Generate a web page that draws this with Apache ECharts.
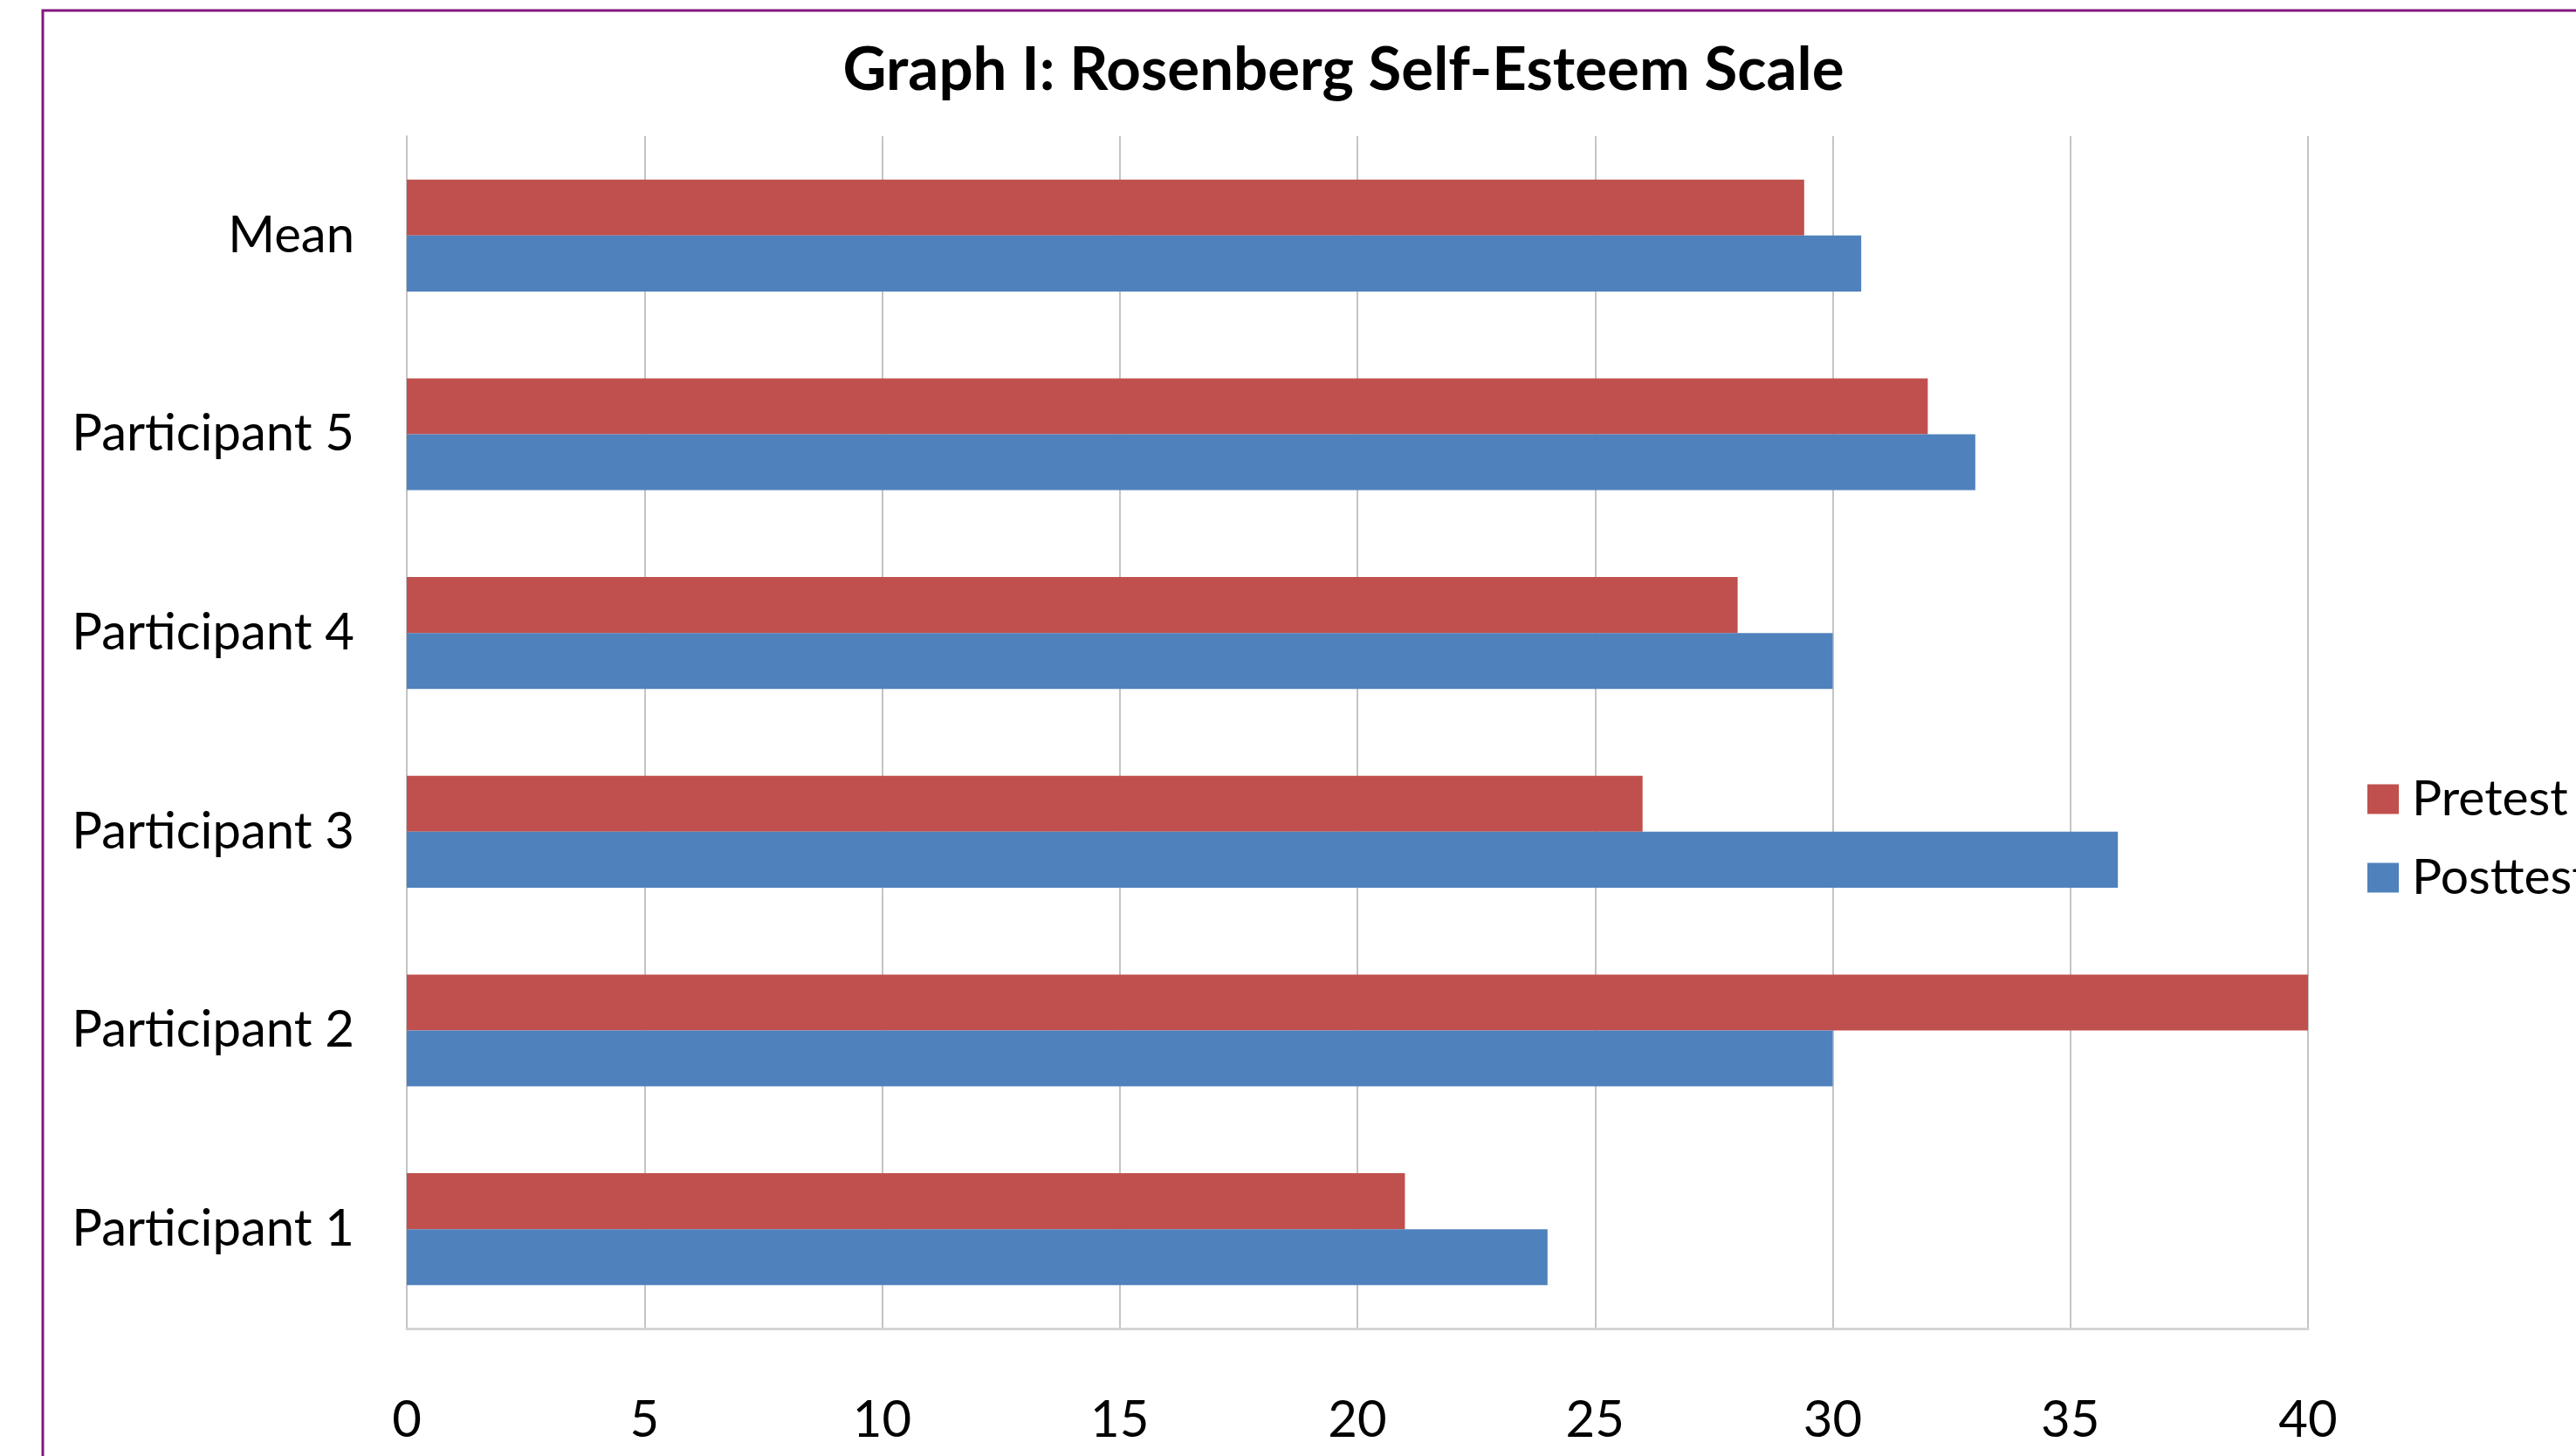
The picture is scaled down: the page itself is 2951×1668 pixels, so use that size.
<!DOCTYPE html>
<html>
<head>
<meta charset="utf-8">
<style>html,body{margin:0;padding:0;background:#fff;}#c{width:2951px;height:1668px;}</style>
<script src="https://cdn.jsdelivr.net/npm/echarts@6/dist/echarts.min.js"></script>
</head>
<body>
<div id="c"></div>
<script>
const categories = ['Participant 1', 'Participant 2', 'Participant 3', 'Participant 4', 'Participant 5', 'Mean'];
const pretest = [21, 40, 26, 28, 32, 29.4];
const posttest = [24, 30, 36, 30, 33, 30.6];
const seriesNames = ['Pretest', 'Posttest'];
const titleText = 'Graph I: Rosenberg Self-Esteem Scale';

const chart = echarts.init(document.getElementById('c'));
const font = 'Lato';
chart.setOption({
  animation: false,
  backgroundColor: '#ffffff',
  title: {
    text: titleText,
    left: 1534, top: 76, textAlign: 'center', textVerticalAlign: 'middle',
    textStyle: {fontFamily: font, fontWeight: 'bold', fontSize: 69, color: '#000'}
  },
  graphic: [{
    type: 'rect', silent: true,
    shape: {x: 49, y: 12, width: 3000, height: 1800},
    style: {fill: 'none', stroke: '#82187f', lineWidth: 3}
  }],
  legend: {
    orient: 'vertical', left: 2707, top: 882,
    itemWidth: 36, itemHeight: 34, itemGap: 33,
    icon: 'rect',
    data: seriesNames,
    textStyle: {fontFamily: font, fontSize: 57, lineHeight: 57, color: '#000', padding: [0, 0, 0, 10]}
  },
  grid: {left: 466, top: 156, width: 2178, height: 1366, containLabel: false},
  xAxis: {
    type: 'value', min: 0, max: 40, interval: 5,
    axisLine: {show: true, lineStyle: {color: '#d4d4d4', width: 3}},
    axisTick: {show: false},
    splitLine: {show: true, lineStyle: {color: '#c4c4c4', width: 2}},
    axisLabel: {fontFamily: font, fontSize: 58, color: '#000', margin: 76}
  },
  yAxis: {
    type: 'category', data: categories,
    axisLine: {show: true, lineStyle: {color: '#c4c4c4', width: 2}},
    axisTick: {show: false},
    axisLabel: {fontFamily: font, fontSize: 58, color: '#000', margin: 60}
  },
  series: [
    {name: seriesNames[0], type: 'bar', data: pretest, barGap: '0%', barCategoryGap: '43.7%',
     itemStyle: {color: '#C0504D'}},
    {name: seriesNames[1], type: 'bar', data: posttest, barGap: '0%', barCategoryGap: '43.7%',
     itemStyle: {color: '#4F81BD'}}
  ]
});
</script>
</body>
</html>
